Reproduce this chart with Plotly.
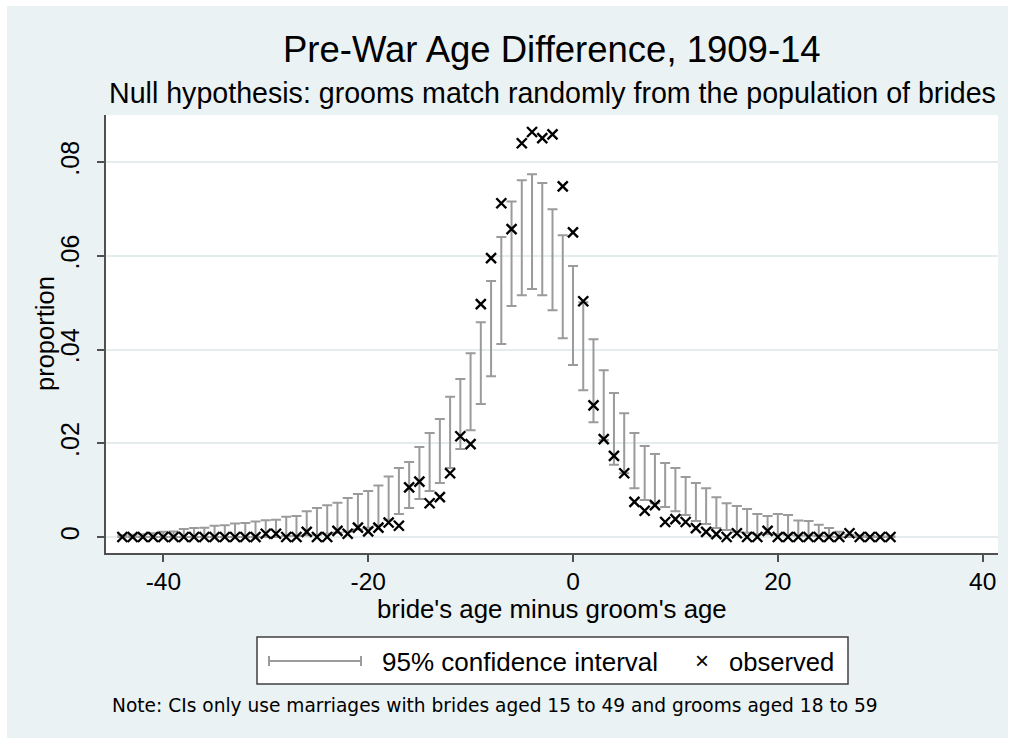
import plotly.graph_objects as go

# ---- data ----
age_diff = list(range(-44, 32))

observed = [
    0, 0, 0, 0, 0, 0, 0, 0, 0, 0, 0, 0, 0, 0,            # -44 .. -31
    0.0007, 0.0007, 0, 0, 0.0011, 0, 0, 0.0013, 0.0007,   # -30 .. -22
    0.0020, 0.0012, 0.0020, 0.0031, 0.0024,               # -21 .. -17
    0.0106, 0.0118, 0.0072, 0.0085, 0.0136,               # -16 .. -12
    0.0215, 0.0198, 0.0497, 0.0595, 0.0712,               # -11 .. -7
    0.0657, 0.0840, 0.0864, 0.0851, 0.0859,               # -6 .. -2
    0.0748, 0.0650, 0.0503, 0.0281, 0.0209,               # -1 .. 3
    0.0173, 0.0136, 0.0075, 0.0056, 0.0068,               # 4 .. 8
    0.0032, 0.0038, 0.0032, 0.0019, 0.0011,               # 9 .. 13
    0.0006, 0, 0.0008, 0, 0, 0.0013,                      # 14 .. 19
    0, 0, 0, 0, 0, 0, 0, 0.0008, 0, 0, 0, 0,              # 20 .. 31
]

ci_upper = [
    0.0004, 0.0005, 0.0006, 0.0008, 0.0011, 0.0012, 0.0017, 0.0019,  # -44 .. -37
    0.0020, 0.0024, 0.0025, 0.0029, 0.0030, 0.0033, 0.0036, 0.0037,  # -36 .. -29
    0.0043, 0.0045, 0.0055, 0.0062, 0.0068, 0.0073, 0.0083, 0.0092,  # -28 .. -21
    0.0098, 0.0110, 0.0129, 0.0147, 0.0160, 0.0192, 0.0222, 0.0252,  # -20 .. -13
    0.0299, 0.0337, 0.0392, 0.0458, 0.0546, 0.0640, 0.0716, 0.0761,  # -12 .. -5
    0.0774, 0.0755, 0.0699, 0.0644, 0.0578, 0.0501, 0.0422, 0.0356,  # -4 .. 3
    0.0307, 0.0264, 0.0222, 0.0194, 0.0177, 0.0158, 0.0147, 0.0128,  # 4 .. 11
    0.0115, 0.0104, 0.0085, 0.0072, 0.0066, 0.0060, 0.0049, 0.0045,  # 12 .. 19
    0.0049, 0.0047, 0.0035, 0.0034, 0.0026, 0.0019, 0.0011, 0.0005,  # 20 .. 27
    0.0003, 0.0002, 0.0001, 0.0001,                                  # 28 .. 31
]

ci_lower = [
    0, 0, 0, 0, 0, 0, 0, 0, 0, 0, 0, 0, 0, 0,                        # -44 .. -31
    0, 0, 0.0002, 0.0002, 0.0004, 0.0005, 0.0007, 0.0009, 0.0012,    # -30 .. -22
    0.0016, 0.0020, 0.0025, 0.0037, 0.0049, 0.0062, 0.0081, 0.0098,  # -21 .. -14
    0.0115, 0.0147, 0.0188, 0.0228, 0.0284, 0.0343, 0.0412, 0.0493,  # -13 .. -6
    0.0516, 0.0529, 0.0516, 0.0484, 0.0424, 0.0367, 0.0313, 0.0245,  # -5 .. 2
    0.0207, 0.0154, 0.0136, 0.0104, 0.0079, 0.0072, 0.0064, 0.0055,  # 3 .. 10
    0.0047, 0.0034, 0.0028, 0.0019, 0.0015, 0.0011, 0.0009, 0.0006,  # 11 .. 18
    0.0006, 0.0006, 0.0005, 0.0003, 0.0003, 0.0002, 0.0001,          # 19 .. 25
    0, 0, 0, 0, 0, 0,                                                # 26 .. 31
]

x_ticks = [-40, -20, 0, 20, 40]
x_tick_text = ["-40", "-20", "0", "20", "40"]
y_ticks = [0, 0.02, 0.04, 0.06, 0.08]
y_tick_text = ["0", ".02", ".04", ".06", ".08"]

title = "Pre-War Age Difference, 1909-14"
subtitle = "Null hypothesis: grooms match randomly from the population of brides"
x_title = "bride's age minus groom's age"
y_title = "proportion"
legend_labels = ["95% confidence interval", "observed"]
note = "Note: CIs only use marriages with brides aged 15 to 49 and grooms aged 18 to 59"

# ---- layout geometry (pixels) ----
W, H = 1015, 744
L, R, T, B = 106, 998, 115, 553
BG = "#EAF2F3"
CI_COLOR = "#9b9b9b"
AXIS_COLOR = "#505050"
FONT = "Liberation Sans, Arial, Helvetica, sans-serif"


def px(x):
    return (x - L) / (R - L)


def py(y):
    return (B - y) / (B - T)


ci_mid = [(a + b) / 2 for a, b in zip(ci_lower, ci_upper)]
ci_plus = [u - m for u, m in zip(ci_upper, ci_mid)]
ci_minus = [m - l for m, l in zip(ci_mid, ci_lower)]

fig = go.Figure()

fig.add_trace(go.Scatter(
    x=age_diff, y=ci_mid, mode="markers",
    marker=dict(size=1, color="rgba(0,0,0,0)"),
    error_y=dict(type="data", symmetric=False, array=ci_plus, arrayminus=ci_minus,
                 color=CI_COLOR, thickness=2, width=5),
    name=legend_labels[0], showlegend=False, hoverinfo="skip",
))

fig.add_trace(go.Scatter(
    x=age_diff, y=observed, mode="markers",
    marker=dict(symbol="x-thin", size=10, color="black",
                line=dict(width=2.4, color="black")),
    name=legend_labels[1], showlegend=False,
))

shapes = [
    # light graph region
    dict(type="rect", xref="paper", yref="paper", layer="below",
         x0=px(7), x1=px(1008), y0=py(738), y1=py(6),
         fillcolor=BG, line=dict(width=0)),
    # white plot region
    dict(type="rect", xref="paper", yref="paper", layer="below",
         x0=0, x1=1, y0=0, y1=1, fillcolor="white", line=dict(width=0)),
    # legend box
    dict(type="rect", xref="paper", yref="paper",
         x0=px(257), x1=px(848), y0=py(684), y1=py(637),
         fillcolor="white", line=dict(width=1.5, color="#404040")),
    # legend CI symbol
    dict(type="line", xref="paper", yref="paper",
         x0=px(268), x1=px(362), y0=py(661), y1=py(661),
         line=dict(width=2, color=CI_COLOR)),
    dict(type="line", xref="paper", yref="paper",
         x0=px(269), x1=px(269), y0=py(656), y1=py(666),
         line=dict(width=2, color=CI_COLOR)),
    dict(type="line", xref="paper", yref="paper",
         x0=px(361), x1=px(361), y0=py(656), y1=py(666),
         line=dict(width=2, color=CI_COLOR)),
]

annotations = [
    dict(text=title, x=0.5, y=py(50), xref="paper", yref="paper",
         showarrow=False, xanchor="center", yanchor="middle",
         font=dict(family=FONT, size=36.5, color="black")),
    dict(text=subtitle, x=0.5, y=py(93), xref="paper", yref="paper",
         showarrow=False, xanchor="center", yanchor="middle",
         font=dict(family=FONT, size=28.6, color="black")),
    dict(text=x_title, x=0.5, y=py(609), xref="paper", yref="paper",
         showarrow=False, xanchor="center", yanchor="middle",
         font=dict(family=FONT, size=25.8, color="black")),
    dict(text=y_title, x=px(45), y=0.5, xref="paper", yref="paper",
         showarrow=False, xanchor="center", yanchor="middle", textangle=-90,
         font=dict(family=FONT, size=25.5, color="black")),
    dict(text=legend_labels[0], x=px(380), y=py(662), xref="paper", yref="paper",
         showarrow=False, xanchor="left", yanchor="middle",
         font=dict(family=FONT, size=26, color="black")),
    dict(text="×", x=px(702), y=py(660), xref="paper", yref="paper",
         showarrow=False, xanchor="center", yanchor="middle",
         font=dict(family=FONT, size=24, color="black")),
    dict(text=legend_labels[1], x=px(727), y=py(662), xref="paper", yref="paper",
         showarrow=False, xanchor="left", yanchor="middle",
         font=dict(family=FONT, size=25.6, color="black")),
    dict(text=note, x=px(110), y=py(705), xref="paper", yref="paper",
         showarrow=False, xanchor="left", yanchor="middle",
         font=dict(family="DejaVu Sans, Verdana, sans-serif", size=18.6, color="black")),
]

fig.update_layout(
    width=W, height=H,
    margin=dict(l=L, r=W - R, t=T, b=H - B, pad=0),
    paper_bgcolor="white", plot_bgcolor="white",
    showlegend=False,
    shapes=shapes, annotations=annotations,
    font=dict(family=FONT, color="black"),
)

fig.update_xaxes(
    range=[-45.6, 41.5], tickmode="array", tickvals=x_ticks, ticktext=x_tick_text,
    ticks="outside", ticklen=7, tickwidth=1.5, tickcolor=AXIS_COLOR,
    showline=True, linecolor=AXIS_COLOR, linewidth=1.5,
    showgrid=False, zeroline=False, ticklabelstandoff=-1,
    tickfont=dict(family=FONT, size=24.5, color="black"),
)
fig.update_yaxes(
    range=[-0.00341, 0.09003], tickmode="array", tickvals=y_ticks, ticktext=y_tick_text,
    tickangle=-90, ticklabelstandoff=8,
    ticks="outside", ticklen=7, tickwidth=1.5, tickcolor=AXIS_COLOR,
    showline=True, linecolor=AXIS_COLOR, linewidth=1.5,
    showgrid=True, gridcolor="#e4ecee", gridwidth=1.5, zeroline=False,
    tickfont=dict(family=FONT, size=25, color="black"),
)

fig.write_html("out.html")
